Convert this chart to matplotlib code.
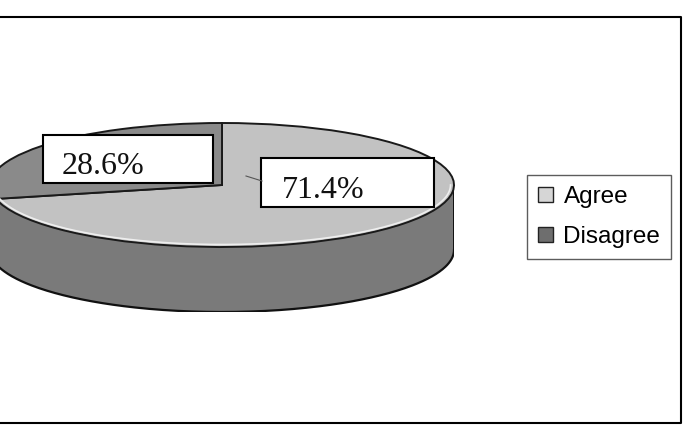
import numpy as np
import matplotlib
matplotlib.use("Agg")
import matplotlib.pyplot as plt
from matplotlib.patches import Rectangle, Polygon

# data
labels = ["Agree", "Disagree"]
values = [71.4, 28.6]
pct_text = ["71.4%", "28.6%"]

top_colors = ["#c2c2c2", "#8a8a8a"]
side_colors = ["#7a7a7a", "#686868"]
legend_colors = ["#d6d6d6", "#6e6e6e"]

W, H = 685, 429
fig = plt.figure(figsize=(W / 100, H / 100), dpi=100)
fig.patch.set_facecolor("white")

# pie geometry in pixels (centre, semi axes, depth of the side)
cx, cy, a, b, depth = 222, 185, 232, 62, 65
d = depth / b

ax = fig.add_axes([(cx - a) / W, 1 - (cy + b + depth) / H, 2 * a / W, (b * 2 + depth) / H], zorder=1)

# side of the 3d pie (front half of the ellipse extruded down)
fracs = np.array(values) / sum(values)
# disagree runs counter-clockwise from 90 deg, ends on the left side
t_dis = 90 + 360 * fracs[1]
segs = [(180, t_dis, side_colors[1]), (t_dis, 360, side_colors[0])]
for t0, t1, col in segs:
    if t1 <= t0:
        continue
    t = np.radians(np.linspace(t0, t1, 200))
    xs = np.concatenate([np.cos(t), np.cos(t[::-1])])
    ys = np.concatenate([np.sin(t), np.sin(t[::-1]) - d])
    ax.add_patch(Polygon(np.column_stack([xs, ys]), closed=True, facecolor=col,
                         edgecolor="none", zorder=1))
t = np.radians(np.linspace(180, 360, 300))
ax.plot(np.cos(t), np.sin(t) - d, color="#111111", lw=1.6, zorder=2)
ax.plot([-1, -1], [0, -d], color="#111111", lw=1.4, zorder=2)
ax.plot([1, 1], [0, -d], color="#111111", lw=1.4, zorder=2)

# top face
wedges, _ = ax.pie(values, colors=top_colors, startangle=90, counterclock=False,
                   radius=1, wedgeprops=dict(edgecolor="#1a1a1a", linewidth=1.4))
for w in wedges:
    w.set_zorder(3)
ax.plot(0.985 * np.cos(t), 0.96 * np.sin(t), color="#eeeeee", lw=1.2, zorder=4)
ax.set_aspect("auto")
ax.set_xlim(-1, 1)
ax.set_ylim(-1 - d, 1)
ax.axis("off")

# overlay in pixel coordinates for frame and label boxes
ov = fig.add_axes([0, 0, 1, 1], zorder=3)
ov.patch.set_alpha(0)
ov.set_xlim(0, W)
ov.set_ylim(H, 0)
ov.axis("off")

ov.plot([0, 681, 681, 0], [17, 17, 423, 423], color="black", lw=1.5)

# data labels
boxes = {"71.4%": (261, 158, 173, 49, 282, 198), "28.6%": (43, 135, 170, 48, 62, 174)}
ov.plot([262, 246], [181, 176], color="#555555", lw=0.8)
for txt in pct_text:
    x0, y0, bw, bh, tx, ty = boxes[txt]
    rect = Rectangle((x0, y0), bw, bh, facecolor="white", edgecolor="black", lw=1.5)
    ov.add_patch(rect)
    tt = ov.text(tx, ty, txt, fontsize=23, family="Liberation Serif", ha="left",
                 va="baseline", color="#111111")
    tt.set_clip_path(rect)

# legend
handles = [Rectangle((0, 0), 1, 1, facecolor=c, edgecolor="#222222", lw=1.0) for c in legend_colors]
leg = fig.legend(handles, labels, loc="upper left",
                 bbox_to_anchor=(527 / W, 1 - 175 / H),
                 prop=dict(family="Liberation Sans", size=17.5),
                 frameon=True, fancybox=False, handlelength=0.6, handleheight=0.6,
                 handletextpad=0.45, borderpad=0.45, labelspacing=0.75, borderaxespad=0)
leg.get_frame().set_edgecolor("#333333")
leg.get_frame().set_linewidth(1.0)
leg.set_zorder(5)

fig.savefig("out.png", dpi=100, facecolor="white")
